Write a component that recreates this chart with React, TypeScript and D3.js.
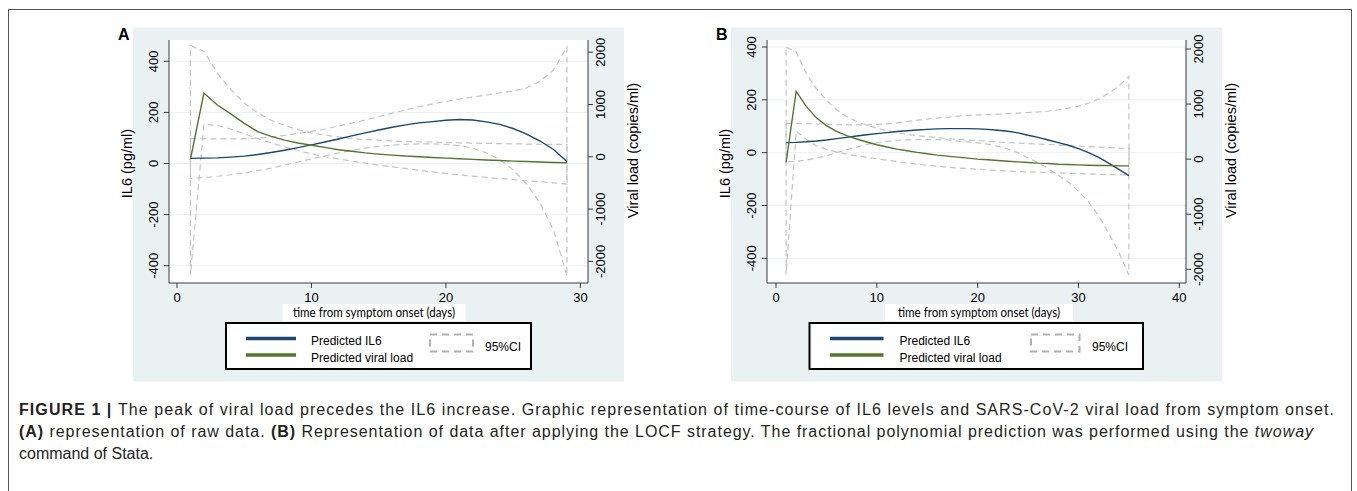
import * as d3 from "d3";

// ---- data ----
const daysA = [1, 2, 3, 4, 5, 6, 7, 8, 9, 10, 11, 12, 13, 14, 15, 16, 17, 18, 19, 20, 21, 22, 23, 24, 25, 26, 27, 28, 29];
const il6A = [20, 21, 22, 25, 29, 35, 43, 52, 62, 73, 84, 96, 108, 120, 131, 142, 151, 159, 164, 169, 172, 170, 163, 153, 137, 115, 88, 55, 8];
const il6LoA = [-58, -55, -50, -44, -37, -28, -18, -6, 6, 18, 30, 41, 51, 60, 67, 72, 75, 77, 77, 75, 70, 60, 42, 15, -25, -80, -155, -260, -440];
const il6HiA = [98, 97, 96, 96, 97, 99, 104, 110, 118, 126, 135, 146, 158, 170, 183, 197, 210, 222, 233, 243, 252, 260, 268, 276, 284, 296, 322, 365, 456];
const vlA = [-50, 1220, 990, 820, 640, 480, 390, 320, 265, 220, 180, 135, 105, 75, 52, 33, 14, 2, -12, -26, -38, -50, -60, -72, -83, -91, -100, -108, -115];
const vlHiA = [2130, 2016, 1603, 1285, 1030, 840, 700, 598, 521, 458, 413, 381, 350, 330, 318, 305, 293, 286, 280, 273, 267, 262, 257, 252, 248, 244, 240, 237, 235];
const vlLoA = [-2260, 620, 600, 530, 440, 350, 265, 190, 120, 57, 5, -40, -83, -122, -159, -192, -223, -256, -288, -318, -345, -370, -394, -416, -437, -458, -479, -500, -521];

const daysB = [1, 2, 3, 4, 5, 6, 7, 8, 9, 10, 11, 12, 13, 14, 15, 16, 17, 18, 19, 20, 21, 22, 23, 24, 25, 26, 27, 28, 29, 30, 31, 32, 33, 34, 35];
const il6B = [38, 39, 41, 44, 48, 53, 58, 63, 68, 72, 76, 80, 83, 86, 88, 90, 91, 91, 91, 90, 88, 85, 81, 75, 66, 58, 48, 38, 28, 15, 0, -18, -40, -63, -87];
const il6HiB = [111, 111, 110, 109, 108, 106, 105, 105, 105, 107, 109, 113, 118, 123, 127, 131, 134, 138, 141, 143, 144, 146, 148, 150, 152, 154, 157, 162, 168, 176, 187, 203, 225, 252, 289];
const il6LoB = [-35, -33, -28, -21, -12, 0, 11, 21, 31, 37, 43, 47, 48, 49, 49, 49, 48, 44, 41, 37, 32, 24, 14, 0, -20, -38, -61, -86, -112, -146, -187, -239, -305, -378, -463];
const vlB = [-61, 1232, 958, 750, 610, 506, 427, 366, 311, 262, 220, 183, 152, 122, 98, 73, 55, 37, 18, 0, -12, -24, -37, -49, -61, -73, -79, -92, -98, -104, -110, -116, -116, -122, -122];
const vlHiB = [2031, 1952, 1555, 1281, 1067, 897, 775, 683, 616, 561, 518, 482, 451, 427, 409, 390, 372, 360, 348, 335, 323, 311, 302, 293, 284, 275, 266, 256, 247, 238, 229, 220, 210, 201, 195];
const vlLoB = [-2100, 512, 360, 244, 177, 128, 92, 61, 31, 6, -18, -43, -67, -92, -110, -128, -146, -159, -171, -183, -195, -207, -214, -226, -232, -238, -244, -250, -256, -262, -268, -275, -281, -281, -287];

const il6Ticks = [-400, -200, 0, 200, 400];
const vlTicks = [-2000, -1000, 0, 1000, 2000];
const xTicksA = [0, 10, 20, 30];
const xTicksB = [0, 10, 20, 30, 40];

const legendLabels = ["Predicted IL6", "Predicted viral load", "95%CI"];
const xTitle = "time from symptom onset (days)";
const yTitle = "IL6 (pg/ml)";
const y2Title = "Viral load (copies/ml)";

const BG = "#eaf1f3";
const BLUE = "#1a476f";
const GREEN = "#55752f";
const CI = "#c4c4c4";
const AXIS = "#3a3a3a";
const FONT = "'Liberation Sans', Arial, Helvetica, sans-serif";

type PanelProps = {
  letter: string;
  dx: number;
  days: number[];
  il6: number[];
  il6Lo: number[];
  il6Hi: number[];
  vl: number[];
  vlLo: number[];
  vlHi: number[];
  xDomain: [number, number];
  xRange: [number, number];
  yRange: [number, number];
  y2Range: [number, number];
  xTicks: number[];
  legend: { x0: number; x1: number; line0: number; line1: number; text: number; box0: number; box1: number; ci: number };
  xLabelBox: [number, number];
};

const Panel = (p: PanelProps) => {
  const plotL = 169 + p.dx;
  const plotR = 588 + p.dx;
  const plotT = 40;
  const plotB = 283;

  const x = d3.scaleLinear().domain(p.xDomain).range(p.xRange);
  const y = d3.scaleLinear().domain([-400, 400]).range(p.yRange);
  const y2 = d3.scaleLinear().domain([-2000, 2000]).range(p.y2Range);

  const lineL = d3.line<number>().x((_, i) => x(p.days[i])).y((v) => y(v));
  const lineR = d3.line<number>().x((_, i) => x(p.days[i])).y((v) => y2(v));

  // CI bands drawn as closed outlines (upper left->right, lower right->left)
  const band = (hi: number[], lo: number[], sc: d3.ScaleLinear<number, number>) => {
    const pts: [number, number][] = [
      ...p.days.map((d, i) => [x(d), sc(hi[i])] as [number, number]),
      ...p.days.map((d, i) => [x(d), sc(lo[i])] as [number, number]).reverse(),
    ];
    return d3.line()(pts) + "Z";
  };

  const midY = (plotT + plotB) / 2;
  const lg = p.legend;

  return (
    <g fontFamily={FONT}>
      <rect x={133 + p.dx} y={27.5} width={491} height={354} fill={BG} />
      <text x={118 + p.dx} y={40} fontSize={16} fontWeight="bold" fill="#000">{p.letter}</text>
      <rect x={plotL} y={plotT} width={plotR - plotL} height={plotB - plotT} fill="#fff" />

      {il6Ticks.map((t) => (
        <line key={"g" + t} x1={plotL} x2={plotR} y1={y(t)} y2={y(t)} stroke={BG} strokeWidth={1} />
      ))}

      <path d={band(p.il6Hi, p.il6Lo, y)} fill="none" stroke={CI} strokeWidth={1.2} strokeDasharray="6 4" />
      <path d={band(p.vlHi, p.vlLo, y2)} fill="none" stroke={CI} strokeWidth={1.2} strokeDasharray="6 4" />
      <path d={lineL(p.il6) ?? ""} fill="none" stroke={BLUE} strokeWidth={1.4} />
      <path d={lineR(p.vl) ?? ""} fill="none" stroke={GREEN} strokeWidth={1.4} />

      {/* axes */}
      <line x1={plotL} x2={plotL} y1={plotT} y2={plotB} stroke={AXIS} />
      <line x1={plotR} x2={plotR} y1={plotT} y2={plotB} stroke={AXIS} />
      <line x1={plotL} x2={plotR} y1={plotB} y2={plotB} stroke={AXIS} />

      {il6Ticks.map((t) => (
        <g key={"l" + t}>
          <line x1={plotL - 5} x2={plotL} y1={y(t)} y2={y(t)} stroke={AXIS} />
          <text transform={`translate(${plotL - 16},${y(t)}) rotate(-90)`} textAnchor="middle" dominantBaseline="central" fontSize={13} fill="#000">{t}</text>
        </g>
      ))}
      {vlTicks.map((t) => (
        <g key={"r" + t}>
          <line x1={plotR} x2={plotR + 5} y1={y2(t)} y2={y2(t)} stroke={AXIS} />
          <text transform={`translate(${plotR + 12},${y2(t)}) rotate(-90)`} textAnchor="middle" dominantBaseline="central" fontSize={13} fill="#000">{t}</text>
        </g>
      ))}
      {p.xTicks.map((t) => (
        <g key={"x" + t}>
          <line x1={x(t)} x2={x(t)} y1={plotB} y2={plotB + 5} stroke={AXIS} />
          <text x={x(t)} y={plotB + 14} textAnchor="middle" dominantBaseline="central" fontSize={13} fill="#000">{t}</text>
        </g>
      ))}

      <text transform={`translate(${127 + p.dx},${midY + 2}) rotate(-90)`} textAnchor="middle" dominantBaseline="central" fontSize={14.5} fill="#000">{yTitle}</text>
      <text transform={`translate(${633 + p.dx},${midY - 11}) rotate(-90)`} textAnchor="middle" dominantBaseline="central" fontSize={14.5} fill="#000">{y2Title}</text>

      {/* x title in a white box */}
      <rect x={p.xLabelBox[0]} y={304} width={p.xLabelBox[1] - p.xLabelBox[0]} height={17} fill="#fff" />
      <text x={(p.xLabelBox[0] + p.xLabelBox[1]) / 2} y={317} textAnchor="middle" fontSize={13} fontFamily="Lato, 'Open Sans', sans-serif" fill="#000" textLength={162} lengthAdjust="spacingAndGlyphs">{xTitle}</text>

      {/* legend */}
      <rect x={lg.x0} y={323} width={lg.x1 - lg.x0} height={46} fill="#fff" stroke="#000" strokeWidth={2} />
      <line x1={lg.line0} x2={lg.line1} y1={338.5} y2={338.5} stroke={BLUE} strokeWidth={3.5} />
      <line x1={lg.line0} x2={lg.line1} y1={355} y2={355} stroke={GREEN} strokeWidth={3.5} />
      <text x={lg.text} y={340.5} dominantBaseline="central" fontSize={12} fill="#000">{legendLabels[0]}</text>
      <text x={lg.text} y={357.5} dominantBaseline="central" fontSize={12} fill="#000">{legendLabels[1]}</text>
      <rect x={lg.box0} y={334.5} width={lg.box1 - lg.box0} height={17} fill="none" stroke="#b0b0b0" strokeWidth={2} strokeDasharray="7 5" />
      <text x={lg.ci} y={347} dominantBaseline="central" fontSize={12} fill="#000">{legendLabels[2]}</text>
    </g>
  );
};

const caption1 = "The peak of viral load precedes the IL6 increase. Graphic representation of time-course of IL6 levels and SARS-CoV-2 viral load from symptom onset.";

export default function App() {
  return (
    <svg width={1357} height={491} style={{ position: "absolute", left: 0, top: 0, background: "#fff" }}>
      <rect x={8.5} y={9.5} width={1343} height={520} fill="#fff" stroke="#555" strokeWidth={1} />
      <Panel
        letter="A"
        dx={0}
        days={daysA}
        il6={il6A}
        il6Lo={il6LoA}
        il6Hi={il6HiA}
        vl={vlA}
        vlLo={vlLoA}
        vlHi={vlHiA}
        xDomain={[0, 30]}
        xRange={[177, 580.4]}
        yRange={[265.7, 61.3]}
        y2Range={[261.4, 52.2]}
        xTicks={xTicksA}
        legend={{ x0: 226, x1: 531, line0: 246, line1: 296, text: 311, box0: 430, box1: 473, ci: 485 }}
        xLabelBox={[282.5, 465.5]}
      />
      <Panel
        letter="B"
        dx={598}
        days={daysB}
        il6={il6B}
        il6Lo={il6LoB}
        il6Hi={il6HiB}
        vl={vlB}
        vlLo={vlLoB}
        vlHi={vlHiB}
        xDomain={[0, 40]}
        xRange={[776, 1179.3]}
        yRange={[258.3, 47]}
        y2Range={[269.3, 49]}
        xTicks={xTicksB}
        legend={{ x0: 809.5, x1: 1143, line0: 830, line1: 883.5, text: 899.5, box0: 1031, box1: 1079.5, ci: 1092 }}
        xLabelBox={[885, 1073]}
      />
      <g fontFamily={FONT} fontSize={16} fill="#231f20">
        <text x={19} y={415} textLength={1315} lengthAdjust="spacing">
          <tspan fontWeight="bold">FIGURE 1 | </tspan>
          {caption1}
        </text>
        <text x={19} y={437} textLength={1294} lengthAdjust="spacing">
          <tspan fontWeight="bold">(A)</tspan> representation of raw data. <tspan fontWeight="bold">(B)</tspan> Representation of data after applying the LOCF strategy. The fractional polynomial prediction was performed using the <tspan fontStyle="italic">twoway</tspan>
        </text>
        <text x={19} y={459}>command of Stata.</text>
      </g>
    </svg>
  );
}
